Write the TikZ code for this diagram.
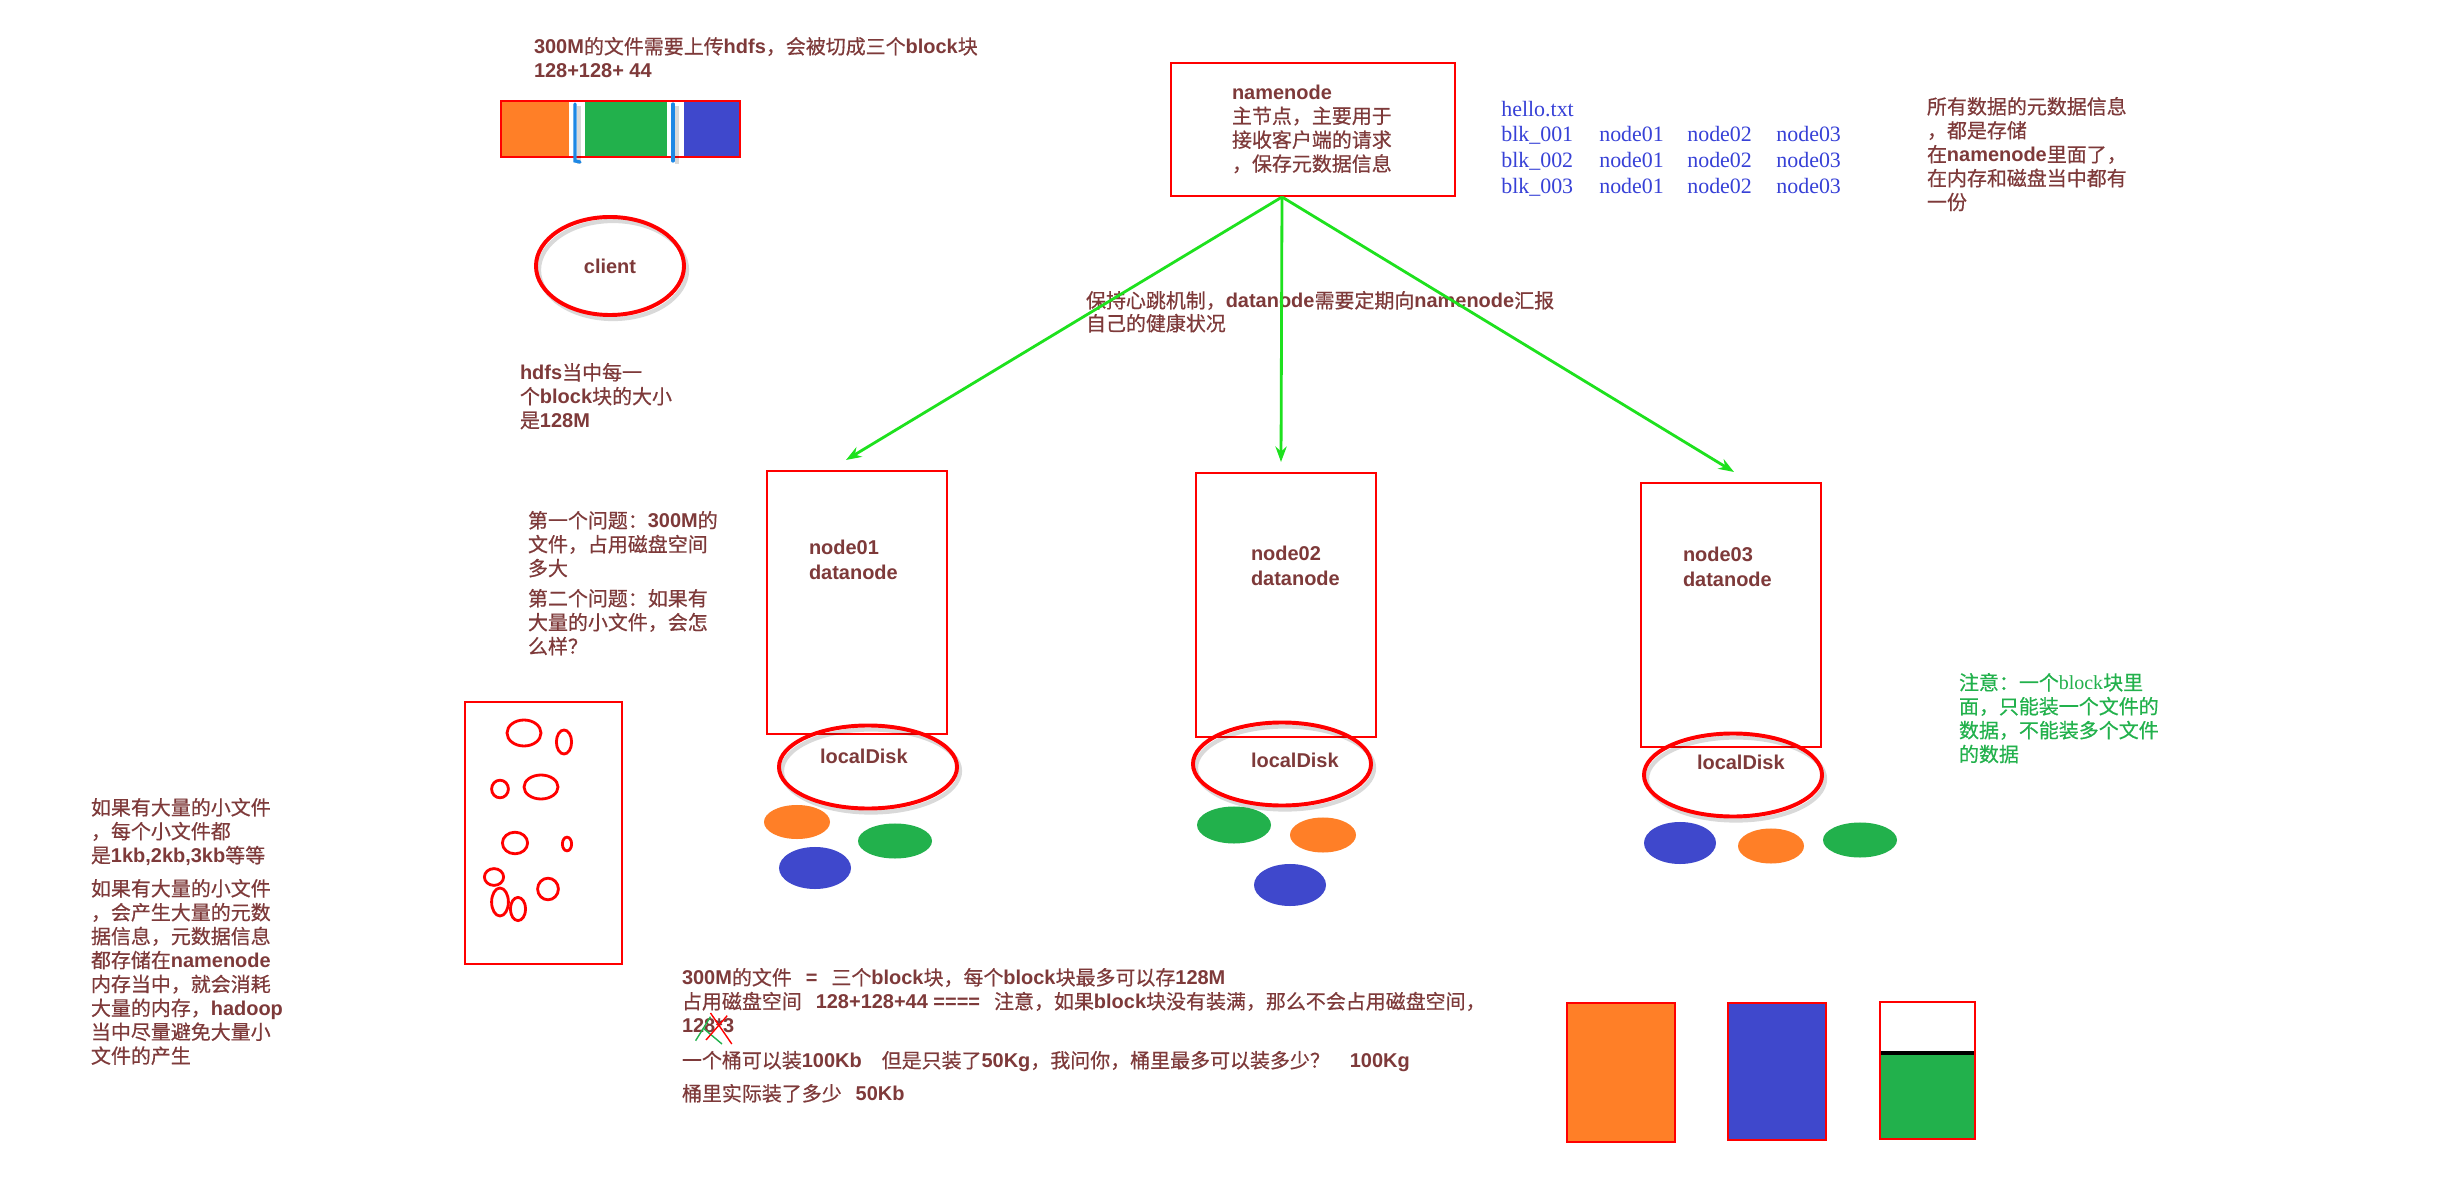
\documentclass[tikz,border=0pt]{standalone}
\usepackage{fontspec}
\setmainfont{Noto Sans CJK SC}[UprightFeatures={FakeBold=0.5}]
\newfontfamily\enf{Liberation Sans}
\newfontfamily\srf{Liberation Serif}
\usetikzlibrary{shapes.geometric,arrows.meta,calc}
\definecolor{txt}{RGB}{126,58,58}
\definecolor{porange}{RGB}{255,127,39}
\definecolor{pgreen}{RGB}{34,177,76}
\definecolor{pblue}{RGB}{63,72,204}
\definecolor{bluetxt}{RGB}{55,65,215}
\definecolor{arrowgreen}{RGB}{30,225,30}
\definecolor{barline}{RGB}{30,136,229}
\newcommand\en[1]{{\enf\bfseries #1}}
\newcommand\sr[1]{{\srf #1}}
\newcommand\gap{\kern.7em\relax}
\begin{document}
\begin{tikzpicture}[x=0.025cm,y=-0.025cm,
 tx/.style={text=txt,font=\fontsize{14.2pt}{17pt}\selectfont,inner sep=0pt,outer sep=0pt,anchor=north west,align=left},
 lat/.style={text=txt,font=\fontsize{14.2pt}{17.7pt}\selectfont\enf\bfseries,inner sep=0pt,outer sep=0pt,anchor=north west,align=left},
 redbox/.style={draw=red,line width=1.4pt,rectangle,inner sep=0pt},
 redell/.style={draw=red,line width=2.8pt,ellipse,inner sep=0pt},
 shade/.style={draw=black,line width=3pt,opacity=0.15},
 blob/.style={ellipse,inner sep=0pt,draw=none},
 arr/.style={draw=arrowgreen,line width=2pt,-{Stealth[length=11pt,width=8pt]}},
 bl/.style={text=bluetxt,font=\fontsize{15.6pt}{18pt}\selectfont\srf,inner sep=0pt,anchor=west},
 small/.style={draw=red,line width=2pt},
]
\useasboundingbox (0,0) rectangle (2447,1200);
\fill[white] (0,0) rectangle (2447,1200);

% ---- top-left: file split bar
\node[tx] (t300) at (534,37) {\en{300M}的文件需要上传\en{hdfs}，会被切成三个\en{block}块\\\en{128+128+ 44}};
\fill[porange] (501,101) rectangle (569,157);
\fill[pgreen] (585,101) rectangle (667,157);
\fill[pblue] (684,101) rectangle (740,157);
\draw[red,line width=1.4pt] (501,101) rectangle (740,157);
\draw[black,opacity=0.15,line width=3pt] (579,106) -- (579,164);
\draw[black,opacity=0.15,line width=3pt] (677,106) -- (677,164);
\draw[barline,line width=2.3pt,line cap=round] (575,104) -- (575,161) -- (580,162);
\draw[barline,line width=2.3pt,line cap=round] (673,104) -- (673,161);

% ---- client
\draw[shade] (613,270) ellipse [x radius=1.85cm,y radius=1.225cm];
\node[redell,minimum width=3.7cm,minimum height=2.45cm,text=txt,font=\fontsize{14.2pt}{17pt}\selectfont\enf\bfseries] (client) at (610,266) {client};
\node[tx] (hdfsblk) at (520,363) {\en{hdfs}当中每一\\个\en{block}块的大小\\是\en{128M}};

% ---- questions
\node[tx] (q1) at (528,511) {第一个问题：\en{300M}的\\文件，占用磁盘空间\\多大};
\node[tx] (q2) at (528,589) {第二个问题：如果有\\大量的小文件，会怎\\么样？};

% ---- namenode
\node[redbox,minimum width=7.1cm,minimum height=3.325cm] (nn) at (1313,129.5) {};
\node[tx] (nntext) at (1232,85) {\en{namenode}\\主节点，主要用于\\接收客户端的请求\\，保存元数据信息};
\coordinate (nnout) at (1282,197);

% ---- metadata table
\node[bl] (hello) at (1501,109) {hello.txt};
\node[bl] (row1) at (1501,135) {\makebox[2.45cm][l]{blk\_001}\makebox[2.2cm][l]{node01}\makebox[2.225cm][l]{node02}node03};
\node[bl] (row2) at (1501,161) {\makebox[2.45cm][l]{blk\_002}\makebox[2.2cm][l]{node01}\makebox[2.225cm][l]{node02}node03};
\node[bl] (row3) at (1501,187) {\makebox[2.45cm][l]{blk\_003}\makebox[2.2cm][l]{node01}\makebox[2.225cm][l]{node02}node03};

\node[tx] (meta) at (1927,97) {所有数据的元数据信息\\，都是存储\\在\en{namenode}里面了，\\在内存和磁盘当中都有\\一份};

% ---- heartbeat label
\node[tx,font=\fontsize{14.2pt}{16.3pt}\selectfont] (hb) at (1086,291) {保持心跳机制，\en{datanode}需要定期向\en{namenode}汇报\\自己的健康状况};

% ---- datanodes
\node[redbox,minimum width=4.5cm,minimum height=6.575cm] (n1) at (857,602.5) {};
\node[redbox,minimum width=4.5cm,minimum height=6.6cm] (n2) at (1286,605) {};
\node[redbox,minimum width=4.5cm,minimum height=6.6cm] (n3) at (1731,615) {};
\node[lat] (n1t) at (809,540) {node01\\datanode};
\node[lat] (n2t) at (1251,546) {node02\\datanode};
\node[lat] (n3t) at (1683,547) {node03\\datanode};

\draw[arr] (nnout) -- ($(n1.north)+(-11,-10)$);
\draw[arr] (nnout) -- ($(n2.north)+(-5,-10)$);
\draw[arr] (nnout) -- ($(n3.north)+(3,-10)$);

% ---- local disks
\draw[shade] (871,771) ellipse [x radius=2.225cm,y radius=1.0375cm];
\draw[shade] (1285,768) ellipse [x radius=2.225cm,y radius=1.0375cm];
\draw[shade] (1736,779) ellipse [x radius=2.225cm,y radius=1.0375cm];
\node[redell,minimum width=4.45cm,minimum height=2.075cm] (d1) at (868,767) {};
\node[redell,minimum width=4.45cm,minimum height=2.075cm] (d2) at (1282,764) {};
\node[redell,minimum width=4.45cm,minimum height=2.075cm] (d3) at (1733,775) {};
\node[lat] (d1t) at (820,749) {localDisk};
\node[lat] (d2t) at (1251,753) {localDisk};
\node[lat] (d3t) at (1697,755) {localDisk};

% ---- blocks on disks
\node[blob,fill=porange,minimum width=1.65cm,minimum height=0.85cm] (b1o) at (797,822) {};
\node[blob,fill=pgreen,minimum width=1.85cm,minimum height=0.875cm] (b1g) at (895,841) {};
\node[blob,fill=pblue,minimum width=1.8cm,minimum height=1.05cm] (b1b) at (815,868) {};
\node[blob,fill=pgreen,minimum width=1.85cm,minimum height=0.925cm] (b2g) at (1234,825) {};
\node[blob,fill=porange,minimum width=1.65cm,minimum height=0.875cm] (b2o) at (1323,835) {};
\node[blob,fill=pblue,minimum width=1.8cm,minimum height=1.05cm] (b2b) at (1290,885) {};
\node[blob,fill=pblue,minimum width=1.8cm,minimum height=1.05cm] (b3b) at (1680,843) {};
\node[blob,fill=porange,minimum width=1.65cm,minimum height=0.875cm] (b3o) at (1771,846) {};
\node[blob,fill=pgreen,minimum width=1.85cm,minimum height=0.875cm] (b3g) at (1860,840) {};

% ---- green note
\node[tx,text=pgreen] (note) at (1959,673) {注意：一个\sr{block}块里\\面，只能装一个文件的\\数据，不能装多个文件\\的数据};

% ---- small files
\draw[red,line width=1.4pt] (465,702) rectangle (622,964);
\draw[small] (524,733) ellipse [x radius=0.425cm,y radius=0.325cm];
\draw[small] (564,742) ellipse [x radius=0.19cm,y radius=0.3cm];
\draw[small] (500,789) ellipse [x radius=0.21cm,y radius=0.22cm];
\draw[small] (541,787) ellipse [x radius=0.425cm,y radius=0.3cm];
\draw[small] (515,843) ellipse [x radius=0.315cm,y radius=0.27cm];
\draw[small] (567,844) ellipse [x radius=0.115cm,y radius=0.17cm];
\draw[small] (494,877) ellipse [x radius=0.24cm,y radius=0.21cm];
\draw[small] (548,889) ellipse [x radius=0.26cm,y radius=0.27cm];
\draw[small] (500,902) ellipse [x radius=0.21cm,y radius=0.35cm];
\draw[small] (518,909) ellipse [x radius=0.19cm,y radius=0.29cm];

\node[tx] (small1) at (91,798) {如果有大量的小文件\\，每个小文件都\\是\en{1kb,2kb,3kb}等等};
\node[tx] (small2) at (91,879) {如果有大量的小文件\\，会产生大量的元数\\据信息，元数据信息\\都存储在\en{namenode}\\内存当中，就会消耗\\大量的内存，\en{hadoop}\\当中尽量避免大量小\\文件的产生};

% ---- bottom explanation
\node[tx] (expl) at (682,968) {\en{300M}的文件\gap\en{=}\gap{}三个\en{block}块，每个\en{block}块最多可以存\en{128M}\\占用磁盘空间\gap\en{128+128+44 ====}\gap{}注意，如果\en{block}块没有装满，那么不会占用磁盘空间，\\\en{128*3}};
\draw[pgreen,line width=1pt] (695.6,1040.7) -- (710.5,1016.7);
\draw[pgreen,line width=1pt] (703,1028) -- (722,1044);
\draw[red,line width=1pt] (710.5,1013) -- (731.8,1044);
\draw[red,line width=1pt] (727.2,1015.7) -- (706,1040);
\node[tx] (bucket1) at (682,1051) {一个桶可以装\en{100Kb}\quad{}但是只装了\en{50Kg}，我问你，桶里最多可以装多少？\quad\en{100Kg}};
\node[tx] (bucket2) at (682,1084) {桶里实际装了多少\gap\en{50Kb}};

% ---- buckets
\draw[red,line width=1.4pt,fill=porange] (1567,1003) rectangle (1675,1142);
\draw[red,line width=1.4pt,fill=pblue] (1728,1003) rectangle (1826,1140);
\fill[pgreen] (1880,1053) rectangle (1975,1139);
\draw[black,line width=2.2pt] (1880,1053) -- (1975,1053);
\draw[red,line width=1.4pt] (1880,1002) rectangle (1975,1139);
\end{tikzpicture}
\end{document}
